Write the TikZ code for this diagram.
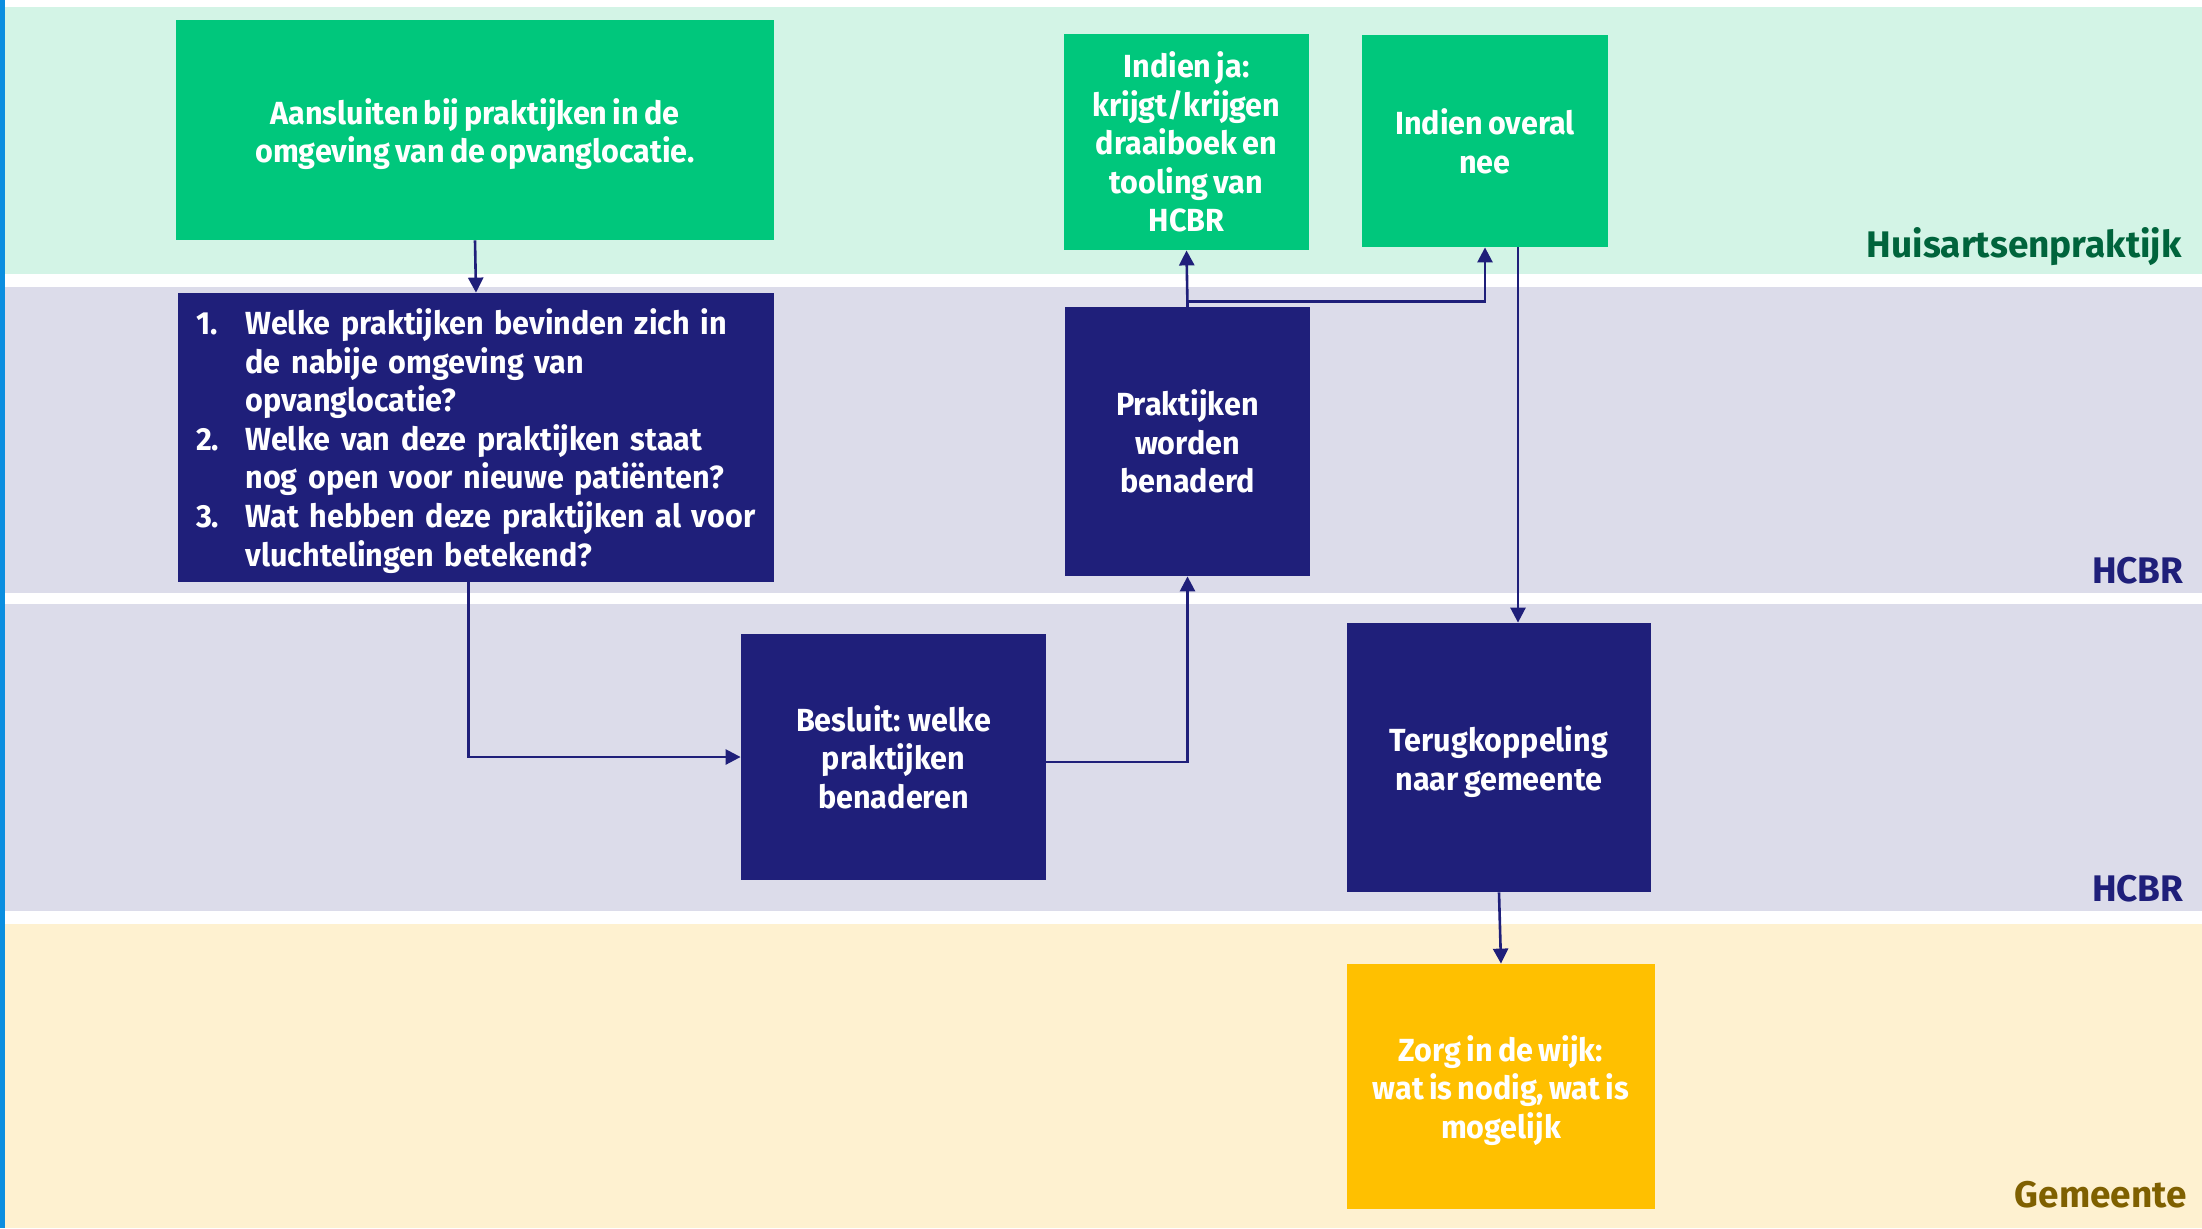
\documentclass[tikz,border=0pt]{standalone}
\usepackage{fontspec}
\setmainfont{Fira Sans}
\newfontfamily\condfont{Fira Sans}[FakeStretch=0.955,WordSpace=0.72]
\newfontfamily\labfont{Fira Sans}
\usetikzlibrary{arrows.meta}
\definecolor{bandgreen}{HTML}{D3F4E6}
\definecolor{bandlav}{HTML}{DCDCEA}
\definecolor{bandcream}{HTML}{FEF1D0}
\definecolor{boxgreen}{HTML}{00C77C}
\definecolor{boxnavy}{HTML}{1F1F7A}
\definecolor{boxyellow}{HTML}{FFC000}
\definecolor{labgreen}{HTML}{00643C}
\definecolor{labgold}{HTML}{7F6000}
\definecolor{edgeblue}{HTML}{0B8EE0}
\newcommand\lowstrut{\rule{0pt}{17pt}}
\tikzset{
  procbox/.style={rectangle, inner sep=0pt, align=center, text=white,
    font=\condfont\bfseries\fontsize{16}{19.3}\selectfont},
  greenbox/.style={procbox, fill=boxgreen},
  navybox/.style={procbox, fill=boxnavy},
  yellowbox/.style={procbox, fill=boxyellow},
  lanelabel/.style={anchor=base east, inner sep=0pt, font=\labfont\bfseries\fontsize{18.5}{22}\selectfont},
  arr/.style={draw=boxnavy, line width=1.3pt, -{Triangle[width=7.5pt,length=7.5pt]}}
}
\begin{document}
\begin{tikzpicture}[x=0.5pt,y=-0.5pt]
\useasboundingbox (0,0) rectangle (2202,1228);
% lanes
\fill[white] (0,0) rectangle (2202,1228);
\fill[bandgreen] (5,7) rectangle (2202,274);
\fill[bandlav] (5,287) rectangle (2202,593);
\fill[bandlav] (5,604) rectangle (2202,911);
\fill[bandcream] (5,924) rectangle (2202,1228);
\fill[edgeblue] (0,0) rectangle (5,1228);
% lane labels
\node[lanelabel, text=labgreen] (l1) at (2182,257) {Huisartsenpraktijk};
\node[lanelabel, text=boxnavy] (l2) at (2184,583) {HCBR};
\node[lanelabel, text=boxnavy] (l3) at (2184,901) {HCBR};
\node[lanelabel, text=labgold] (l4) at (2187,1207) {Gemeente};
% boxes
\node[greenbox, minimum width=299pt, minimum height=110pt] (A) at (475,130)
  {\lowstrut Aansluiten bij praktijken in de\\omgeving van de opvanglocatie.};
\node[navybox, minimum width=298pt, minimum height=144.5pt, text width=280pt, inner xsep=9pt, align=left] (B) at (476,437.5)
  {\begin{tabular}{@{}p{24.75pt}@{}l@{}}
  \rule{0pt}{18.5pt}1. & Welke praktijken bevinden zich in\\
     & de nabije omgeving van\\
     & opvanglocatie?\\
  2. & Welke van deze praktijken staat\\
     & nog open voor nieuwe patiënten?\\
  3. & Wat hebben deze praktijken al voor\\
     & vluchtelingen betekend?
  \end{tabular}};
\node[greenbox, minimum width=122.5pt, minimum height=108pt] (C) at (1186.5,142)
  {Indien ja:\\krijgt/krijgen\\draaiboek en\\tooling van\\HCBR};
\node[greenbox, minimum width=123pt, minimum height=106pt] (D) at (1485,141)
  {Indien overal\\nee};
\node[navybox, minimum width=122.5pt, minimum height=134.5pt] (E) at (1187.5,441.5)
  {Praktijken\\worden\\benaderd};
\node[navybox, minimum width=152.5pt, minimum height=123pt] (F) at (893.5,757)
  {Besluit: welke\\praktijken\\benaderen};
\node[navybox, minimum width=152pt, minimum height=134.5pt] (G) at (1499,757.5)
  {\lowstrut Terugkoppeling\\naar gemeente};
\node[yellowbox, minimum width=154pt, minimum height=122.5pt] (H) at (1501,1086.5)
  {\lowstrut Zorg in de wijk:\\wat is nodig, wat is\\mogelijk};
% connectors
\draw[arr] (A.south) -- (B.north);
\draw[arr] ([xshift=-3.7pt]B.south) |- (F.west);
\draw[arr] ([yshift=-2.5pt]F.east) -| (E.south);
\draw[arr] (E.north) -- (C.south);
\draw[arr] (E.north) -- ++(0,-5) -| (D.south);
\draw[arr] ([xshift=16.5pt]D.south) -- ([xshift=16.5pt]D.south |- G.north);
\draw[arr] (G.south) -- (H.north);
\end{tikzpicture}
\end{document}
